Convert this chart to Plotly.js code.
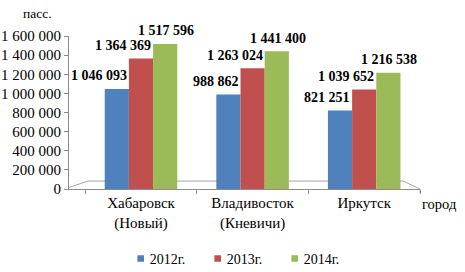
<!DOCTYPE html>
<html><head><meta charset="utf-8">
<script src="https://cdn.plot.ly/plotly-3.0.1.min.js"></script>
<style>html,body{margin:0;padding:0;background:#fff}#chart{width:465px;height:272px}</style>
</head><body><div id="chart"></div>
<script>
var categories = ['Хабаровск<br>(Новый)', 'Владивосток<br>(Кневичи)', 'Иркутск'];
var seriesNames = ['2012г.', '2013г.', '2014г.'];
var v2012 = [1046093, 988862, 821251];
var v2013 = [1364369, 1263024, 1039652];
var v2014 = [1517596, 1441400, 1216538];
var yTicks = [0, 200000, 400000, 600000, 800000, 1000000, 1200000, 1400000, 1600000];

var colors = ['#4F81BD', '#C0504D', '#9BBB59'];
var serif = 'Liberation Serif';
var allSeries = [v2012, v2013, v2014];

function fmt(n) { return String(n).replace(/\B(?=(\d{3})+(?!\d))/g, ' '); }

var traces = allSeries.map(function (vals, i) {
  return {
    type: 'bar', x: categories, y: vals, name: seriesNames[i],
    marker: {color: colors[i], line: {width: 0}},
    hoverinfo: 'none'
  };
});

var labelStyle = [
  {xanchor: 'right', xshift: -12},
  {xanchor: 'center', xshift: -18},
  {xanchor: 'center', xshift: 25}
];
var annotations = [];
allSeries.forEach(function (vals, i) {
  vals.forEach(function (v, j) {
    annotations.push({
      x: categories[j], y: v, xref: 'x', yref: 'y',
      text: '<b>' + fmt(v) + '</b>', showarrow: false,
      xanchor: labelStyle[i].xanchor, xshift: labelStyle[i].xshift,
      yanchor: 'middle', yshift: 13,
      font: {family: serif, size: 14, color: '#000'}
    });
  });
});
annotations.push({xref: 'paper', yref: 'paper', x: -0.09, y: 1.15, xanchor: 'center', yanchor: 'middle',
  text: 'пасс.', showarrow: false, font: {family: serif, size: 13.5, color: '#000'}});
annotations.push({xref: 'paper', yref: 'paper', x: 1.0, y: -0.1, xanchor: 'left', yanchor: 'middle',
  text: 'город', showarrow: false, font: {family: serif, size: 14.5, color: '#000'}});

var layout = {
  width: 465, height: 272,
  margin: {l: 69, r: 45, t: 36, b: 83},
  paper_bgcolor: '#fff', plot_bgcolor: '#fff',
  separators: '. ',
  barmode: 'group', bargap: 0.35, bargroupgap: 0,
  showlegend: true,
  legend: {orientation: 'h', x: 0.445, xanchor: 'center', xref: 'paper', yref: 'container', y: 0.048, yanchor: 'middle',
    font: {family: serif, size: 14, color: '#000'}, entrywidth: 32, itemwidth: 30},
  xaxis: {type: 'category', showline: true, linecolor: '#8c8c8c', linewidth: 1,
    ticks: 'outside', tickson: 'boundaries', ticklen: 4, tickcolor: '#8c8c8c', ticklabelstandoff: 0,
    tickfont: {family: serif, size: 15, color: '#000'}, showgrid: false, zeroline: false, fixedrange: true},
  yaxis: {range: [0, 1600000], tickvals: yTicks, tickformat: ',d', showline: true, linecolor: '#8c8c8c',
    linewidth: 1, ticks: 'outside', ticklen: 4, tickcolor: '#8c8c8c', showgrid: false, zeroline: false,
    tickfont: {family: serif, size: 15, color: '#000'}, fixedrange: true},
  shapes: [{type: 'path', xref: 'paper', yref: 'paper', layer: 'below',
    path: 'M 0 0.01 L 0.054 0.052 L 0.952 0.052 L 1 0 L 1 -0.025',
    line: {color: '#a6a6a6', width: 1}}],
  annotations: annotations,
  font: {family: serif}
};
Plotly.newPlot('chart', traces, layout, {staticPlot: true, displayModeBar: false}).then(function (gd) {
  gd.querySelectorAll('.legend .traces .legendpoints path').forEach(function (p) {
    var t = p.getAttribute('transform') || '';
    p.setAttribute('transform', t + ' translate(11,0) scale(0.55)');
  });
});
</script></body></html>
